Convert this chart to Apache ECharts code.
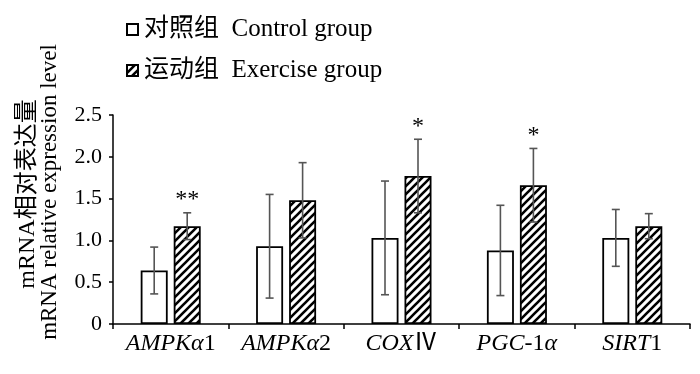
<!DOCTYPE html>
<html>
<head>
<meta charset="utf-8">
<script src="https://cdn.jsdelivr.net/npm/echarts@6/dist/echarts.min.js"></script>
<style>html,body{margin:0;padding:0;background:#fff}#c{width:700px;height:374px}</style>
</head>
<body>
<div id="c"></div>
<script>
var categories = ['{i|AMPKα}{n|1}', '{i|AMPKα}{n|2}', '{i|COX}{n|Ⅳ}', '{i|PGC}{n|-1}{i|α}', '{i|SIRT}{n|1}'];
var controlMean = [0.64, 0.93, 1.03, 0.88, 1.03];
var controlSD = [0.28, 0.62, 0.68, 0.54, 0.34];
var exerciseMean = [1.17, 1.48, 1.77, 1.66, 1.17];
var exerciseSD = [0.16, 0.45, 0.44, 0.44, 0.15];
var significance = ['**', '', '*', '*', ''];
var yMin = 0, yMax = 2.5, yStep = 0.5;
var nameControl = '对照组  Control group';
var nameExercise = '运动组  Exercise group';
var titleCN = 'mRNA相对表达量';
var titleEN = 'mRNA relative expression level';

var FONT = '"Liberation Serif", "Times New Roman", "Noto Sans CJK SC", serif';

function makeHatch() {
  var p = 8;
  var cv = document.createElement('canvas');
  cv.width = p; cv.height = p;
  var ctx = cv.getContext('2d');
  ctx.fillStyle = '#fff';
  ctx.fillRect(0, 0, p, p);
  ctx.strokeStyle = '#000';
  ctx.lineWidth = 2.6;
  ctx.beginPath();
  ctx.moveTo(-1, p + 1); ctx.lineTo(p + 1, -1);
  ctx.moveTo(-p / 2 - 1, p / 2 + 1); ctx.lineTo(p / 2 + 1, -p / 2 - 1);
  ctx.moveTo(p / 2 - 1, p * 1.5 + 1); ctx.lineTo(p * 1.5 + 1, p / 2 - 1);
  ctx.stroke();
  return cv;
}
var hatch = { image: makeHatch(), repeat: 'repeat' };

var BAR_W = 27, BAR_GAP = 6;

function errData(means, sds) {
  return means.map(function (m, i) { return [i, m, sds[i]]; });
}

function errRender(offset, withSig) {
  return function (params, api) {
    var i = api.value(0), m = api.value(1), sd = api.value(2);
    var sig = withSig ? significance[params.dataIndex] : '';
    var top = api.coord([i, m + sd]);
    var bot = api.coord([i, m - sd]);
    var x = top[0] + offset;
    var cap = 4;
    var st = { stroke: '#555', lineWidth: 1.6 };
    var children = [
      { type: 'line', shape: { x1: x, y1: top[1], x2: x, y2: bot[1] }, style: st },
      { type: 'line', shape: { x1: x - cap, y1: top[1], x2: x + cap, y2: top[1] }, style: st },
      { type: 'line', shape: { x1: x - cap, y1: bot[1], x2: x + cap, y2: bot[1] }, style: st }
    ];
    if (sig) {
      children.push({ type: 'text', x: x, y: top[1] - 1, style: { text: sig, font: '24px ' + FONT, fill: '#000', align: 'center', verticalAlign: 'bottom' } });
    }
    return { type: 'group', children: children };
  };
}

var chart = echarts.init(document.getElementById('c'), null, { renderer: 'canvas' });
chart.setOption({
  animation: false,
  backgroundColor: '#fff',
  grid: { left: 113, right: 10, top: 115, bottom: 50, containLabel: false },
  legend: {
    orient: 'vertical', left: 121, top: 11,
    itemWidth: 11, itemHeight: 11, itemGap: 14,
    icon: 'rect',
    textStyle: { fontFamily: FONT, fontSize: 25, color: '#000', lineHeight: 27, padding: [0, 0, 0, 1] },
    data: [nameControl, nameExercise]
  },
  xAxis: {
    type: 'category', data: categories,
    axisLine: { show: true, lineStyle: { color: '#000', width: 1.5 } },
    axisTick: { show: true, interval: 0, length: 5, lineStyle: { color: '#000', width: 1.5 } },
    axisLabel: {
      interval: 0, margin: 8, color: '#000',
      rich: {
        i: { fontFamily: FONT, fontStyle: 'italic', fontSize: 24, color: '#000' },
        n: { fontFamily: FONT, fontSize: 24, color: '#000' }
      }
    }
  },
  yAxis: {
    type: 'value', min: yMin, max: yMax, interval: yStep,
    splitLine: { show: false },
    axisLine: { show: true, lineStyle: { color: '#000', width: 1.5 } },
    axisTick: { show: true, length: 4, lineStyle: { color: '#000', width: 1.5 } },
    axisLabel: {
      margin: 11, color: '#000', fontFamily: FONT, fontSize: 22,
      formatter: function (v) { return v === 0 ? '0' : v.toFixed(1); }
    }
  },
  graphic: [
    { type: 'text', x: 28, y: 194, rotation: Math.PI / 2, style: { text: titleCN, font: '24px ' + FONT, fill: '#000', align: 'center', verticalAlign: 'middle' } },
    { type: 'text', x: 50, y: 192, rotation: Math.PI / 2, style: { text: titleEN, font: '23px ' + FONT, fill: '#000', align: 'center', verticalAlign: 'middle' } }
  ],
  series: [
    { name: nameControl, type: 'bar', data: controlMean, barWidth: BAR_W, barGap: (BAR_GAP / BAR_W * 100) + '%',
      itemStyle: { color: '#fff', borderColor: '#000', borderWidth: 1.8 } },
    { name: nameExercise, type: 'bar', data: exerciseMean, barWidth: BAR_W,
      itemStyle: { color: hatch, borderColor: '#000', borderWidth: 1.8 } },
    { type: 'custom', name: 'errC', data: errData(controlMean, controlSD), renderItem: errRender(-(BAR_W + BAR_GAP) / 2, false), z: 5 },
    { type: 'custom', name: 'errE', data: errData(exerciseMean, exerciseSD), renderItem: errRender((BAR_W + BAR_GAP) / 2, true), z: 5 }
  ]
});
</script>
</body>
</html>
